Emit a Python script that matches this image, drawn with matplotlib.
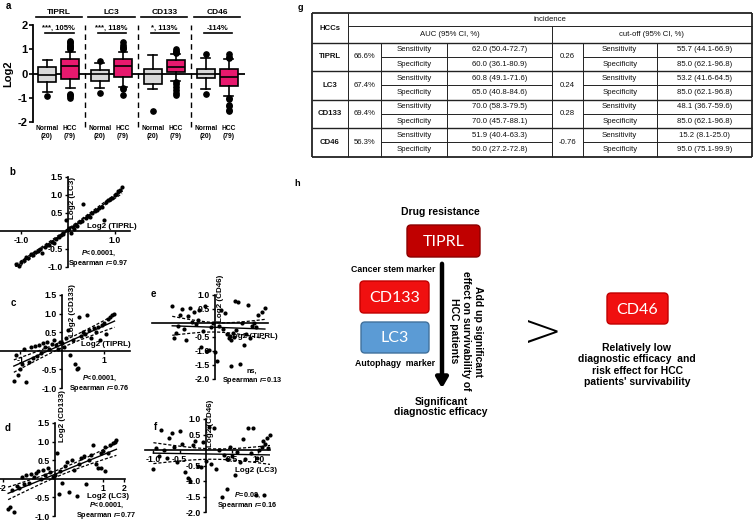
import numpy as np
import matplotlib
matplotlib.use("Agg")
import matplotlib.pyplot as plt
from matplotlib.patches import FancyBboxPatch

plt.rcParams['font.family'] = ['Liberation Sans', 'DejaVu Sans']
plt.rcParams['mathtext.fontset'] = 'custom'
plt.rcParams['mathtext.it'] = 'Liberation Sans:italic:bold'
plt.rcParams['mathtext.rm'] = 'Liberation Sans:bold'
plt.rcParams['axes.unicode_minus'] = False

# ------------------------------------
# Panel a: box plots (Normal / HCC per marker)
# ------------------------------------
groups = ["TIPRL", "LC3", "CD133", "CD46"]
sig_labels = ["***, 105%", "***, 118%", "*, 113%", "-114%"]
box_labels = ["Normal\n(20)", "HCC\n(79)"] * 4
box_med = [-0.05, 0.30, 0.00, 0.30, 0.00, 0.25, 0.00, -0.15]
box_q1 = [-0.35, -0.22, -0.30, -0.15, -0.45, 0.05, -0.20, -0.50]
box_q3 = [0.25, 0.60, 0.15, 0.60, 0.20, 0.55, 0.20, 0.20]
box_lo = [-0.75, -0.60, -0.60, -0.55, -0.65, -0.30, -0.65, -0.95]
box_hi = [0.55, 0.90, 0.45, 0.90, 0.75, 0.80, 0.65, 0.60]
box_fliers = [
    [-0.95],
    [1.0, 1.05, 1.1, 1.15, 1.2, 1.25, 1.3, 1.35, -0.85, -0.9, -0.95, -1.0],
    [0.5, -0.8],
    [1.0, 1.05, 1.1, 1.2, 1.3, -0.6, -0.65, -0.9],
    [-1.55],
    [0.85, 0.9, 0.95, 1.0, -0.35, -0.45, -0.55, -0.7, -0.8, -0.9],
    [0.8, -0.85],
    [0.65, 0.7, 0.8, -1.0, -1.05, -1.3, -1.35, -1.5, -1.55],
]
box_colors = ["#d9d9d9", "#e8196e"] * 4

# ------------------------------------
# Panels b-f: scatter correlations
# ------------------------------------
b_x = [-1.12, -1.05, -1.00, -0.95, -0.90, -0.85, -0.80, -0.75, -0.70, -0.65,
       -0.60, -0.55, -0.50, -0.45, -0.40, -0.35, -0.30, -0.25, -0.20, -0.15,
       -0.10, -0.05, 0.00, 0.03, 0.06, 0.10, 0.13, 0.17, 0.20, 0.25,
       0.30, 0.33, 0.38, 0.42, 0.47, 0.52, 0.57, 0.62, 0.66, 0.72,
       0.78, 0.82, 0.86, 0.90, 0.95, 1.00, 1.04, 1.08, 1.12, 1.16]
b_y = [-0.92, -0.97, -0.85, -0.80, -0.72, -0.76, -0.65, -0.68, -0.58, -0.55,
       -0.50, -0.62, -0.45, -0.40, -0.38, -0.30, -0.33, -0.22, -0.18, -0.12,
       -0.08, 0.30, 0.02, 0.08, -0.05, 0.12, 0.05, 0.18, 0.15, 0.25,
       0.28, 0.75, 0.35, 0.42, 0.40, 0.50, 0.55, 0.58, 0.65, 0.68,
       0.30, 0.80, 0.85, 0.88, 0.92, 1.00, 1.02, 1.10, 1.15, 1.22]

c_x = [-1.15, -1.10, -1.05, -1.00, -0.95, -0.90, -0.85, -0.80, -0.75, -0.70,
       -0.65, -0.60, -0.55, -0.50, -0.45, -0.40, -0.35, -0.30, -0.25, -0.20,
       -0.15, -0.10, -0.05, 0.00, 0.05, 0.10, 0.15, 0.20, 0.25, 0.30,
       0.35, 0.38, 0.40, 0.45, 0.50, 0.55, 0.60, 0.65, 0.70, 0.75,
       0.80, 0.85, 0.90, 0.95, 1.00, 1.05, 1.10, 1.15, 1.20, 1.25]
c_y = [-0.80, -0.10, -0.65, -0.50, -0.35, 0.05, -0.85, -0.30, 0.10, -0.20,
       0.12, -0.15, 0.15, -0.05, 0.20, 0.10, 0.25, 0.05, 0.18, 0.30,
       0.15, 0.05, 0.25, 0.20, 0.10, 0.35, 0.55, -0.10, 0.30, -0.35,
       -0.50, -0.45, 0.90, 0.40, 0.50, 0.45, 0.95, 0.55, 0.35, 0.60,
       0.50, 0.65, 0.30, 0.70, 0.75, 0.45, 0.85, 0.90, 0.95, 1.00]

d_x = [-0.98, -0.95, -0.90, -0.85, -0.80, -0.75, -0.70, -0.65, -0.60, -0.55,
       -0.50, -0.45, -0.40, -0.35, -0.30, -0.25, -0.20, -0.15, -0.10, -0.05,
       0.00, 0.05, 0.08, 0.10, 0.15, 0.20, 0.25, 0.30, 0.35, 0.40,
       0.45, 0.50, 0.55, 0.60, 0.65, 0.70, 0.75, 0.80, 0.85, 0.90,
       0.95, 1.00, 1.05, 1.10, 1.15, 1.20, 1.25, 1.28, 0.95, 1.05]
d_y = [-0.80, -0.75, -0.30, -0.90, -0.20, -0.25, 0.05, -0.15, 0.10, -0.10,
       0.12, 0.05, 0.15, 0.20, 0.00, 0.25, 0.10, 0.30, 0.18, 0.05,
       0.10, 0.70, -0.40, 0.20, -0.10, 0.35, 0.45, -0.35, 0.50, 0.25,
       -0.45, 0.40, 0.55, 0.60, -0.15, 0.50, 0.65, 0.90, 0.40, 0.30,
       0.70, 0.75, 0.85, 0.70, 0.90, 0.95, 1.00, 1.05, 0.30, 0.20]

e_x = [-1.10, -1.05, -1.00, -0.95, -0.90, -0.85, -0.80, -0.75, -0.70, -0.65,
       -0.60, -0.55, -0.50, -0.45, -0.40, -0.35, -0.30, -0.25, -0.20, -0.15,
       -0.10, -0.05, 0.00, 0.05, 0.10, 0.15, 0.20, 0.25, 0.30, 0.35,
       0.38, 0.40, 0.42, 0.45, 0.48, 0.50, 0.55, 0.60, 0.65, 0.70,
       0.75, 0.80, 0.85, 0.90, 0.95, 1.00, 1.05, 1.10, 1.20, 1.28]
e_y = [0.60, -0.55, -0.35, -0.10, 0.30, 0.50, -0.20, -0.60, 0.25, 0.55,
       0.05, 0.40, -0.05, 0.10, 0.45, -0.85, -0.30, 0.60, -1.00, -0.95,
       -0.15, 0.00, -1.05, -1.35, -0.10, 0.45, -0.20, 0.35, -0.40, -0.55,
       -0.45, -0.60, -1.55, -0.35, -0.50, 0.80, -0.25, 0.75, -1.45, 0.00,
       -0.80, -0.40, 0.65, -0.55, -0.10, 0.00, -0.15, 0.30, 0.40, 0.55]

f_x = [-1.00, -0.95, -0.90, -0.85, -0.80, -0.75, -0.70, -0.65, -0.60, -0.55,
       -0.50, -0.45, -0.40, -0.35, -0.30, -0.25, -0.20, -0.15, -0.10, -0.05,
       0.00, 0.05, 0.10, 0.15, 0.20, 0.25, 0.30, 0.35, 0.40, 0.45,
       0.50, 0.55, 0.60, 0.65, 0.70, 0.75, 0.80, 0.85, 0.90, 0.95,
       0.98, 1.02, 1.06, 1.10, 1.13, 1.16, 1.19, 1.22, 1.08, 0.40]
f_y = [-0.60, 0.05, -0.20, 0.65, 0.00, -0.25, 0.40, 0.55, 0.10, -0.40,
       0.60, 0.20, -0.70, -0.90, -1.00, 0.15, 0.30, -0.50, -0.55, 0.25,
       -0.35, 0.75, -0.45, 0.70, -0.60, 0.00, -1.50, -0.15, -0.30, 0.10,
       -0.20, -0.80, -0.05, -0.40, 0.35, -0.30, 0.70, -0.10, 0.70, -1.45,
       -0.25, 0.00, 0.10, -1.45, 0.20, 0.40, 0.05, 0.50, 0.30, -1.25]

# ------------------------------------
# Panel g: table
# ------------------------------------
markers = ["TIPRL", "LC3", "CD133", "CD46"]
auc = ["66.6%", "67.4%", "69.4%", "56.3%"]
auc_sens = ["62.0 (50.4-72.7)", "60.8 (49.1-71.6)", "70.0 (58.3-79.5)", "51.9 (40.4-63.3)"]
auc_spec = ["60.0 (36.1-80.9)", "65.0 (40.8-84.6)", "70.0 (45.7-88.1)", "50.0 (27.2-72.8)"]
cutoff = ["0.26", "0.24", "0.28", "-0.76"]
cut_sens = ["55.7 (44.1-66.9)", "53.2 (41.6-64.5)", "48.1 (36.7-59.6)", "15.2 (8.1-25.0)"]
cut_spec = ["85.0 (62.1-96.8)", "85.0 (62.1-96.8)", "85.0 (62.1-96.8)", "95.0 (75.1-99.9)"]

# ------------------------------------
# Figure in pixel layout
# ------------------------------------
W, H = 756, 522
fig = plt.figure(figsize=(7.56, 5.22), dpi=100)


def px_axes(x0, y0, x1, y1):
    return fig.add_axes([x0 / W, 1 - y1 / H, (x1 - x0) / W, (y1 - y0) / H])


canvas = px_axes(0, 0, W, H)
canvas.set_xlim(0, W)
canvas.set_ylim(H, 0)
canvas.axis('off')

# ---------- panel a ----------
ax = px_axes(33, 25, 245, 122)
ax.set_facecolor('none')
pos = []
for gi in range(4):
    pos += [gi * 2.3, gi * 2.3 + 1]
stats = []
for i in range(8):
    stats.append(dict(med=box_med[i], q1=box_q1[i], q3=box_q3[i],
                      whislo=box_lo[i], whishi=box_hi[i], fliers=box_fliers[i]))
bp = ax.bxp(stats, positions=pos, widths=0.78, patch_artist=True,
            boxprops=dict(lw=1.2, edgecolor='black', zorder=3),
            medianprops=dict(color='black', lw=1.2, zorder=4),
            whiskerprops=dict(lw=1.2, zorder=3), capprops=dict(lw=1.2, zorder=3),
            flierprops=dict(marker='o', markerfacecolor='black', markeredgecolor='black',
                            markersize=3.8, zorder=3))
for patch, col in zip(bp['boxes'], box_colors):
    patch.set_facecolor(col)
ax.axhline(0, color='black', lw=1.3, zorder=1)
ax.set_xlim(-0.61, 8.6)
ax.set_ylim(-2.02, 2.02)
for gi in range(4):
    if gi < 3:
        ax.axvline(gi * 2.3 + 1.65, color='black', lw=1, ls=(0, (4, 3)), ymin=-0.05, ymax=1.0,
                   clip_on=False)
    cx = gi * 2.3 + 0.5
    ax.plot([cx - 1.0, cx + 1.0], [2.35, 2.35], color='black', lw=1.2, clip_on=False)
    ax.text(cx, 2.56, groups[gi], ha='center', va='center', fontsize=6, fontweight='bold')
    ax.plot([gi * 2.3 - 0.1, gi * 2.3 + 1.15], [1.67, 1.67], color='black', lw=1.2)
    ax.text(gi * 2.3 + 0.5, 1.88, sig_labels[gi], ha='center', va='center', fontsize=5.5,
            fontweight='bold')
ax.set_xticks(pos, box_labels)
ax.set_yticks([-2, -1, 0, 1, 2])
ax.tick_params(axis='x', length=0, labelsize=4.8, pad=2)
ax.tick_params(axis='y', length=3, width=1.2, labelsize=8, pad=1)
for lab in ax.get_xticklabels() + ax.get_yticklabels():
    lab.set_fontweight('bold')
for s in ['top', 'right', 'bottom']:
    ax.spines[s].set_visible(False)
ax.spines['left'].set_linewidth(1.3)
ax.spines['left'].set_bounds(-2, 2)
ax.set_ylabel("Log2", fontsize=8, fontweight='bold', labelpad=3)


# ---------- scatter panels ----------
def scatter_panel(box, xlim, ylim, x, y, xticks, xticklabels, yticks, yticklabels):
    ax = px_axes(*box)
    ax.set_facecolor('none')
    ax.set_xlim(xlim)
    ax.set_ylim(ylim)
    ax.spines['left'].set_position(('data', 0))
    ax.spines['bottom'].set_position(('data', 0))
    ax.spines['top'].set_visible(False)
    ax.spines['right'].set_visible(False)
    ax.spines['left'].set_linewidth(1.2)
    ax.spines['bottom'].set_linewidth(1.2)
    x = np.array(x)
    y = np.array(y)
    ax.scatter(x, y, s=9, color='black', zorder=3, clip_on=False, lw=0)
    slope, inter = np.polyfit(x, y, 1)
    xs = np.linspace(x.min(), x.max(), 60)
    yh = slope * xs + inter
    n = len(x)
    s = np.sqrt(np.sum((y - (slope * x + inter)) ** 2) / (n - 2))
    se = s * np.sqrt(1 / n + (xs - x.mean()) ** 2 / np.sum((x - x.mean()) ** 2))
    ax.plot(xs, yh, color='black', lw=1.0, zorder=2)
    ax.plot(xs, yh + 2.01 * se, color='black', lw=0.9, ls=(0, (2.5, 1.5)), zorder=2)
    ax.plot(xs, yh - 2.01 * se, color='black', lw=0.9, ls=(0, (2.5, 1.5)), zorder=2)
    ax.set_xticks(xticks, xticklabels)
    ax.set_yticks(yticks, yticklabels)
    ax.tick_params(direction='out', length=2.5, width=1, labelsize=6.3, pad=1)
    for lab in ax.get_xticklabels() + ax.get_yticklabels():
        lab.set_fontweight('bold')
    return ax


y_ticks_a = [-1, -0.5, 0.5, 1, 1.5]
y_lab_a = ['-1.0', '-0.5', '0.5', '1.0', '1.5']
y_ticks_b = [-2, -1.5, -1, -0.5, 0.5, 1]
y_lab_b = ['-2.0', '-1.5', '-1.0', '-0.5', '0.5', '1.0']

scatter_panel((0, 177, 130, 267), (-1.46, 1.33), (-1.0, 1.5), b_x, b_y,
              [-1, 1], ['-1.0', '1.0'], y_ticks_a, y_lab_a)
scatter_panel((0, 295, 130, 388), (-1.48, 1.62), (-1.0, 1.5), c_x, c_y,
              [-1, 1], ['-1', '1'], y_ticks_a, y_lab_a)
scatter_panel((152, 295, 268, 379), (-1.62, 1.36), (-2.0, 1.0), e_x, e_y,
              [], [], y_ticks_b, y_lab_b)
scatter_panel((0, 423, 125, 516), (-1.15, 1.46), (-1.0, 1.5), d_x, d_y,
              [-1.09, 1, 1.44], ['-2', '1', '2'], y_ticks_a, y_lab_a)
scatter_panel((145, 419, 270, 512), (-1.16, 1.22), (-2.0, 1.0), f_x, f_y,
              [-1, -0.5, 0.5, 1], ['-1.0', '-0.5', '0.5', '1.0'], y_ticks_b, y_lab_b)

# labels for scatter panels (pixel positions)
lab_kw = dict(fontsize=5.8, fontweight='bold')
st_kw = dict(fontsize=5.2, fontweight='bold', ha='center', va='center',
             multialignment='center', linespacing=1.05)
canvas.text(12, 172, "b", fontsize=7, fontweight='bold', ha='center', va='center')
canvas.text(72, 198, "Log2 (LC3)", rotation=90, ha='center', va='center', **lab_kw)
canvas.text(112, 226, "Log2 (TIPRL)", ha='center', va='center', **lab_kw)
canvas.text(98, 259, "$\\mathit{P}$<0.0001,\nSpearman $\\mathit{r}$=0.97", **st_kw)

canvas.text(13, 303, "c", fontsize=7, fontweight='bold', ha='center', va='center')
canvas.text(72, 310, "Log2 (CD133)", rotation=90, ha='center', va='center', **lab_kw)
canvas.text(106, 345, "Log2 (TIPRL)", ha='center', va='center', **lab_kw)
canvas.text(99, 384, "$\\mathit{P}$<0.0001,\nSpearman $\\mathit{r}$=0.76", **st_kw)

canvas.text(153, 294, "e", fontsize=7, fontweight='bold', ha='center', va='center')
canvas.text(221, 298, "Log2 (CD46)", rotation=90, ha='center', va='center', **lab_kw)
canvas.text(253, 337, "Log2 (TIPRL)", ha='center', va='center', **lab_kw)
canvas.text(252, 377, "ns,\nSpearman $\\mathit{r}$=0.13", **st_kw)

canvas.text(8, 428, "d", fontsize=7, fontweight='bold', ha='center', va='center')
canvas.text(63, 416, "Log2 (CD133)", rotation=90, ha='center', va='center', **lab_kw)
canvas.text(108, 497, "Log2 (LC3)", ha='center', va='center', **lab_kw)
canvas.text(106, 511, "$\\mathit{P}$<0.0001,\nSpearman $\\mathit{r}$=0.77", **st_kw)

canvas.text(156, 427, "f", fontsize=7, fontweight='bold', ha='center', va='center')
canvas.text(210, 423, "Log2 (CD46)", rotation=90, ha='center', va='center', **lab_kw)
canvas.text(256, 470, "Log2 (LC3)", ha='center', va='center', **lab_kw)
canvas.text(247, 501, "$\\mathit{P}$=0.08,\nSpearman $\\mathit{r}$=0.16", **st_kw)

canvas.text(8, 6, "a", fontsize=7, fontweight='bold', ha='center', va='center')

# ---------- panel g: table ----------
canvas.text(300, 7, "g", fontsize=6.5, fontweight='bold', ha='center', va='center')
cols = [311.7, 347.7, 380.7, 447.3, 551.7, 582.7, 656.7, 751.7]
top, mid_h, hdr_b = 13.3, 26.0, 42.7
sub_h = 14.25
bottom = hdr_b + 8 * sub_h
lc = '#222222'
t_kw = dict(fontsize=5.6, ha='center', va='center', color='#111111')


def hline(y, x0, x1, lw=0.7):
    canvas.plot([x0, x1], [y, y], color=lc, lw=lw, solid_capstyle='butt')


def vline(x, y0, y1, lw=0.7):
    canvas.plot([x, x], [y0, y1], color=lc, lw=lw, solid_capstyle='butt')


hline(top, cols[0], cols[-1], 1.3)
hline(bottom, cols[0], cols[-1], 1.3)
vline(cols[0], top, bottom, 1.3)
vline(cols[-1], top, bottom, 1.3)
vline(cols[1], top, bottom)
hline(mid_h, cols[1], cols[-1])
vline(cols[4], mid_h, bottom)
hline(hdr_b, cols[0], cols[-1], 1.0)
for c in [cols[2], cols[3], cols[5], cols[6]]:
    vline(c, hdr_b, bottom)
canvas.text((cols[0] + cols[1]) / 2, (top + hdr_b) / 2, "HCCs", fontweight='bold', **t_kw)
canvas.text((cols[1] + cols[-1]) / 2, (top + mid_h) / 2, "incidence", **t_kw)
canvas.text((cols[1] + cols[4]) / 2, (mid_h + hdr_b) / 2, "AUC (95% CI, %)", **t_kw)
canvas.text((cols[4] + cols[-1]) / 2, (mid_h + hdr_b) / 2, "cut-off (95% CI, %)", **t_kw)
for i in range(4):
    r0 = hdr_b + 2 * i * sub_h
    r1 = r0 + 2 * sub_h
    rm = r0 + sub_h
    if i < 3:
        hline(r1, cols[0], cols[-1], 1.0)
    hline(rm, cols[2], cols[4])
    hline(rm, cols[5], cols[-1])
    canvas.text((cols[0] + cols[1]) / 2, rm, markers[i], fontweight='bold', **t_kw)
    canvas.text((cols[1] + cols[2]) / 2, rm, auc[i], **t_kw)
    canvas.text((cols[2] + cols[3]) / 2, r0 + sub_h / 2, "Sensitivity", **t_kw)
    canvas.text((cols[2] + cols[3]) / 2, rm + sub_h / 2, "Specificity", **t_kw)
    canvas.text((cols[3] + cols[4]) / 2, r0 + sub_h / 2, auc_sens[i], **t_kw)
    canvas.text((cols[3] + cols[4]) / 2, rm + sub_h / 2, auc_spec[i], **t_kw)
    canvas.text((cols[4] + cols[5]) / 2, rm, cutoff[i], **t_kw)
    canvas.text((cols[5] + cols[6]) / 2, r0 + sub_h / 2, "Sensitivity", **t_kw)
    canvas.text((cols[5] + cols[6]) / 2, rm + sub_h / 2, "Specificity", **t_kw)
    canvas.text((cols[6] + cols[7]) / 2, r0 + sub_h / 2, cut_sens[i], **t_kw)
    canvas.text((cols[6] + cols[7]) / 2, rm + sub_h / 2, cut_spec[i], **t_kw)

# ---------- panel h: summary diagram ----------
canvas.text(297, 184, "h", fontsize=6.5, fontweight='bold', ha='center', va='center')
b_kw = dict(fontweight='bold', ha='center', va='center', color='black')


def node(x0, y0, x1, y1, face, edge, label):
    canvas.add_patch(FancyBboxPatch((x0, y0), x1 - x0, y1 - y0,
                                    boxstyle="round,pad=0,rounding_size=4",
                                    facecolor=face, edgecolor=edge, lw=1.0))
    canvas.text((x0 + x1) / 2, (y0 + y1) / 2 + 1, label, fontsize=11.5, color='white',
                ha='center', va='center', family=['Lato', 'DejaVu Sans'])


canvas.text(440, 212, "Drug resistance", fontsize=7.5, **b_kw)
node(407, 225, 480, 257, "#c00000", "#8b0000", "TIPRL")
canvas.text(393, 270, "Cancer stem marker", fontsize=6.3, **b_kw)
node(360, 281, 429, 313, "#f01010", "#c00000", "CD133")
node(361, 322, 429, 353, "#5b9bd5", "#41719c", "LC3")
canvas.text(395, 363, "Autophagy  marker", fontsize=6.3, **b_kw)
canvas.annotate('', xy=(442, 391), xytext=(442, 261),
                arrowprops=dict(arrowstyle='-|>,head_width=0.35,head_length=0.6',
                                lw=3.2, color='black', mutation_scale=10))
canvas.text(466, 331, "Add up significant\neffect on survivability of\nHCC patients",
            rotation=270, fontsize=7.5, multialignment='center', **b_kw)
canvas.text(441, 407, "Significant\ndiagnostic efficacy", fontsize=7.5,
            multialignment='center', linespacing=1.1, **b_kw)
canvas.text(543, 333, ">", fontsize=34, ha='center', va='center', color='black',
            family=['DejaVu Sans'], fontweight='light')
node(607, 293, 668, 324, "#f01010", "#c00000", "CD46")
canvas.text(637, 365, "Relatively low\ndiagnostic efficacy  and\nrisk effect for HCC\npatients' survivability",
            fontsize=7.5, multialignment='center', linespacing=1.15, **b_kw)

fig.savefig("out.png", dpi=100)
